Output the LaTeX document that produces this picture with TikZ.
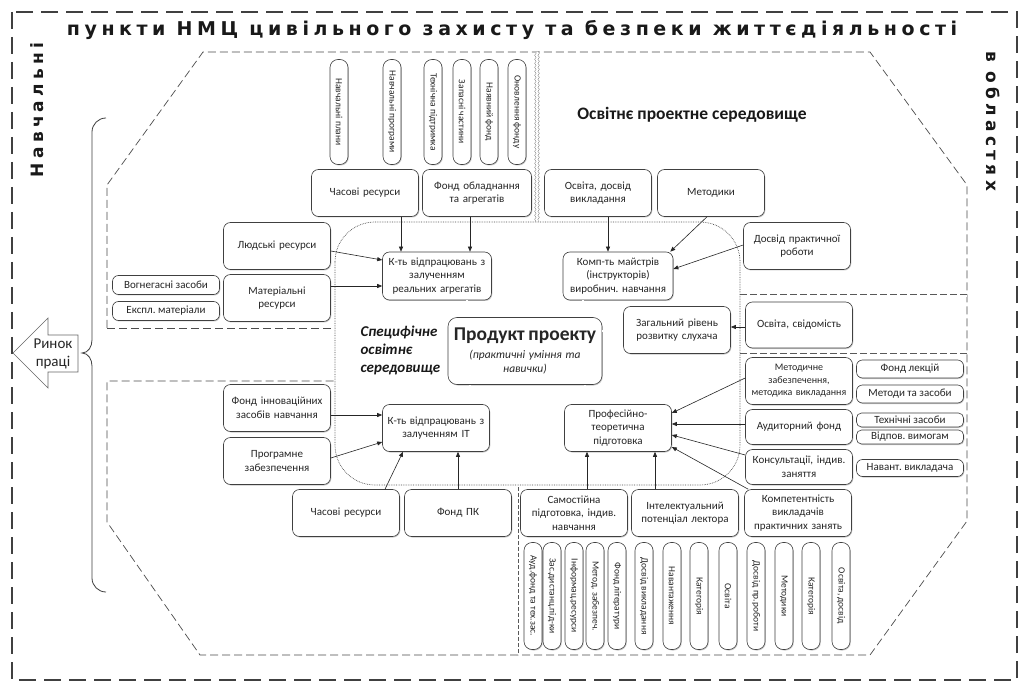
\documentclass[tikz,border=0pt]{standalone}
\usepackage{fontspec}
\setmainfont{Carlito}
\newfontfamily\headfont[LetterSpace=25]{DejaVu Sans}
\newfontfamily\titlefont[LetterSpace=24]{DejaVu Sans}
\usetikzlibrary{arrows.meta,shadows,decorations.pathmorphing}
\frenchspacing

\tikzset{
  box/.style={draw=black!75, line width=0.6pt, fill=white, rounded corners=7pt,
    align=center, inner sep=1pt, text=black!85,
    font=\fontsize{11}{13.5}\selectfont,
    drop shadow={shadow xshift=0.8pt, shadow yshift=-1pt, opacity=0.35, fill=black!60}},
  bigbox/.style={box, minimum width=107pt, minimum height=47pt, text width=104pt},
  thinbox/.style={box, rounded corners=6pt, minimum width=107pt, minimum height=#1},
  upbox/.style={box, rounded corners=8pt, rotate=-90, minimum width=105pt,
    minimum height=18pt, font=\fontsize{9.5}{10}\selectfont},
  downbox/.style={upbox, minimum width=107pt},
  arr/.style={-{Triangle[length=5pt,width=4pt]}, black!85, line width=0.6pt},
  dbl/.style={draw=black!75, double=white, double distance=1.6pt, line width=0.5pt},
  frame/.style={black!75, line width=1.1pt, dash pattern=on 17pt off 8pt},
  zone/.style={black!70, line width=0.7pt, dash pattern=on 8pt off 4pt},
  ddash/.style={black!65, line width=0.5pt, double, double distance=2pt, dash pattern=on 7pt off 3pt},
  vdash/.style={black!65, line width=0.5pt, double, double distance=2pt, dash pattern=on 4pt off 2pt},
  wavy/.style={black!60, line width=0.4pt, double, double distance=2pt, decorate,
    decoration={snake, amplitude=0.8pt, segment length=4pt}},
  spaced/.style={font=\headfont\fontsize{17}{20}\selectfont\bfseries, text=black!90}
}

\begin{document}
\begin{tikzpicture}[x=1pt, y=-1pt]
\useasboundingbox (0,0) rectangle (1022,684);
\fill[white] (0,0) rectangle (1022,684);

% outer frame and captions
\draw[frame] (12,12) rectangle (1017,680);
\node[font=\titlefont\fontsize{19}{22}\selectfont\bfseries, text=black!90] (title) at (512,30) {пункти НМЦ цивільного захисту та безпеки життєдіяльності};
\node[spaced, rotate=90] (navch) at (37,110) {Навчальні};
\node[spaced, rotate=-90] (oblast) at (993,121) {в областях};

% zones
\draw[zone] (107,328) -- (107,185) -- (203,52) -- (870,52) -- (967,185) -- (967,521)
  -- (870,655) -- (200,655) -- (107,522) -- (107,381) -- (335,381);
\draw[zone] (107,328) -- (335,328);
\draw[ddash] (740,296) -- (967,296);
\draw[ddash] (740,352) -- (967,352);
\draw[vdash] (517,487) -- (517,655);
\draw[wavy] (537,52) -- (537,222);
\draw[black!70, line width=0.7pt, densely dotted, rounded corners=40pt] (335,222) rectangle (740,485);

% brace and market arrow
\draw[black!75, line width=0.8pt] (106,118) to[out=180,in=90] (92,132) -- (92,340)
  to[out=-90,in=0] (82,353) to[out=0,in=90] (92,366) -- (92,578) to[out=-90,in=180] (106,592);
\draw[black!60, fill=white, line width=0.6pt] (13,353) -- (48,318) -- (48,335) -- (78,335)
  -- (78,372) -- (48,372) -- (48,388) -- cycle;
\node[align=center, font=\fontsize{15}{18}\selectfont, text=black!85] (rynok) at (53,354) {Ринок\\праці};

% section titles
\node[font=\fontsize{17.5}{20}\selectfont\bfseries, text=black!90] (osvsered) at (692,115) {Освітнє проектне середовище};
\node[anchor=west, align=left, font=\fontsize{15}{18}\selectfont\bfseries\itshape, text=black!90] (spec) at (357,350) {Специфічне\\освітнє\\середовище};

% top resources
\node[upbox] (plany) at (339,112) {Навчальні плани};
\node[upbox] (prohramy) at (392,112) {Навчальні програми};
\node[upbox] (tekhpid) at (433,112) {Технічна підтримка};
\node[upbox] (zapasni) at (462,112) {Запасні частини};
\node[upbox] (nayavnyi) at (489,112) {Наявний фонд};
\node[upbox] (onovl) at (517,112) {Оновлення фонду};
\node[bigbox] (chas1) at (365,193) {Часові ресурси};
\node[bigbox, minimum width=109pt] (fondobl) at (477,193) {Фонд обладнання\\та агрегатів};
\node[bigbox] (osvdosv) at (598,193) {Освіта, досвід\\викладання};
\node[bigbox] (metod) at (711,193) {Методики};
\node[bigbox] (dosvprak) at (797,246) {Досвід практичної\\роботи};

% left resources
\node[bigbox] (lyud) at (277,246) {Людські ресурси};
\node[bigbox] (mater) at (277,298) {Матеріальні\\ресурси};
\node[thinbox=19pt] (vogn) at (166,285) {Вогнегасні засоби};
\node[thinbox=19pt] (ekspl) at (166,311) {Експл. матеріали};
\node[bigbox] (fondinn) at (277,408) {Фонд інноваційних\\засобів навчання};
\node[bigbox] (prohr) at (277,461) {Програмне\\забезпечення};

% centre
\node[bigbox, minimum width=109pt, minimum height=48pt] (kreal) at (437,276) {К-ть відпрацювань з\\залученням\\реальних агрегатів};
\node[bigbox, minimum width=110pt, minimum height=48pt] (komp) at (618,276) {Комп-ть майстрів\\(інструкторів)\\виробнич. навчання};
\node[box, minimum width=154pt, minimum height=67pt, text width=150pt, rounded corners=9pt] (product) at (525,351)
  {{\fontsize{19.5}{21}\selectfont\bfseries Продукт проекту}\\[1pt]{\fontsize{11.5}{17}\selectfont\itshape (практичні уміння та\\навички)}};
\node[bigbox] (zahal) at (677,330) {Загальний рівень\\розвитку слухача};
\node[bigbox] (kit) at (436,428) {К-ть відпрацювань з\\залученням ІТ};
\node[bigbox] (prof) at (618,428) {Професійно-\\теоретична\\підготовка};

% right resources
\node[bigbox, minimum height=46pt] (osvsv) at (799,325) {Освіта, свідомість};
\node[bigbox, font=\fontsize{10}{12.5}\selectfont] (metzab) at (799,381) {Методичне\\забезпечення,\\методика викладання};
\node[thinbox=18pt] (fondlek) at (910,369) {Фонд лекцій};
\node[thinbox=18pt] (metzas) at (910,394) {Методи та засоби};
\node[bigbox, minimum height=35pt] (audyt) at (799,427) {Аудиторний фонд};
\node[thinbox=14pt, rounded corners=5pt] (tekhzas) at (910,420) {Технічні засоби};
\node[thinbox=14pt, rounded corners=5pt] (vidpov) at (910,437) {Відпов. вимогам};
\node[bigbox, minimum height=35pt] (konsult) at (799,467) {Консультації, індив.\\заняття};
\node[thinbox=17pt] (navant) at (910,468) {Навант. викладача};

% bottom resources
\node[bigbox] (chas2) at (346,513) {Часові ресурси};
\node[bigbox] (fondpk) at (458,513) {Фонд ПК};
\node[bigbox] (samost) at (574,513) {Самостійна\\підготовка, індив.\\навчання};
\node[bigbox] (intel) at (685,513) {Інтелектуальний\\потенціал лектора};
\node[bigbox] (kompet) at (798,513) {Компетентність\\викладачів\\практичних занять};
\node[downbox] (audfond) at (533,596) {Ауд.фонд та тех.зас.};
\node[downbox] (zasdyst) at (552,596) {Зас.дистанц.під-ки};
\node[downbox] (inform) at (574,596) {Інформац.ресурси};
\node[downbox] (metodzab) at (595,596) {Метод. забезпеч.};
\node[downbox] (fondlit) at (617,596) {Фонд літератури};
\node[downbox] (dosvvykl) at (644,596) {Досвід викладання};
\node[downbox] (navantazh) at (672,596) {Навантаження};
\node[downbox] (kateg1) at (699,596) {Категорія};
\node[downbox] (osvita1) at (728,596) {Освіта};
\node[downbox] (dosvpr) at (756,596) {Досвід пр.роботи};
\node[downbox] (metodyky) at (784,596) {Методики};
\node[downbox] (kateg2) at (811,596) {Категорія};
\node[downbox] (osvita2) at (841,596) {Освіта, досвід};

% arrows
\draw[arr] ([xshift=36]chas1.south) -- ([xshift=-36]kreal.north);
\draw[arr] ([xshift=-7]fondobl.south) -- ([xshift=33]kreal.north);
\draw[arr] ([xshift=10]osvdosv.south) -- ([xshift=-10]komp.north);
\draw[arr] ([xshift=-4]metod.south) -- ([xshift=-3]komp.north east);
\draw[arr] ([yshift=1]dosvprak.west) -- ([yshift=7]komp.east);
\draw[arr] ([yshift=-5]lyud.east) -- ([yshift=16]kreal.west);
\draw[arr] ([yshift=12]mater.east) -- ([yshift=-10]kreal.west);
\draw[arr] ([yshift=-2]osvsv.west) -- ([yshift=3]zahal.east);
\draw[arr] ([yshift=-7]fondinn.east) -- ([yshift=13]kit.west);
\draw[arr] ([yshift=3]prohr.east) -- ([yshift=-14]kit.west);
\draw[arr] ([xshift=39]chas2.north) -- ([xshift=-33]kit.south);
\draw[arr] (fondpk.north) -- ([xshift=22]kit.south);
\draw[arr] ([xshift=13]samost.north) -- ([xshift=-31]prof.south);
\draw[arr] ([xshift=-30]intel.north) -- ([xshift=37]prof.south);
\draw[arr] ([yshift=3]metzab.west) -- ([yshift=15]prof.east);
\draw[arr] ([yshift=3]audyt.west) -- ([yshift=4]prof.east);
\draw[arr] ([yshift=12]konsult.west) -- ([yshift=-7]prof.east);
\draw[arr] ([xshift=4]kompet.north west) -- ([yshift=-19]prof.east);

% double links to the product
\draw[dbl] ([xshift=30]kreal.south) -- ([xshift=-58]product.north);
\draw[dbl] ([xshift=-35]komp.south) -- ([xshift=58]product.north);
\draw[dbl] ([yshift=-1]zahal.west) -- ([yshift=20]product.east);
\draw[dbl] ([xshift=-55]product.south) -- ([xshift=34]kit.north);
\draw[dbl] ([xshift=60]product.south) -- ([xshift=-33]prof.north);
\end{tikzpicture}
\end{document}
